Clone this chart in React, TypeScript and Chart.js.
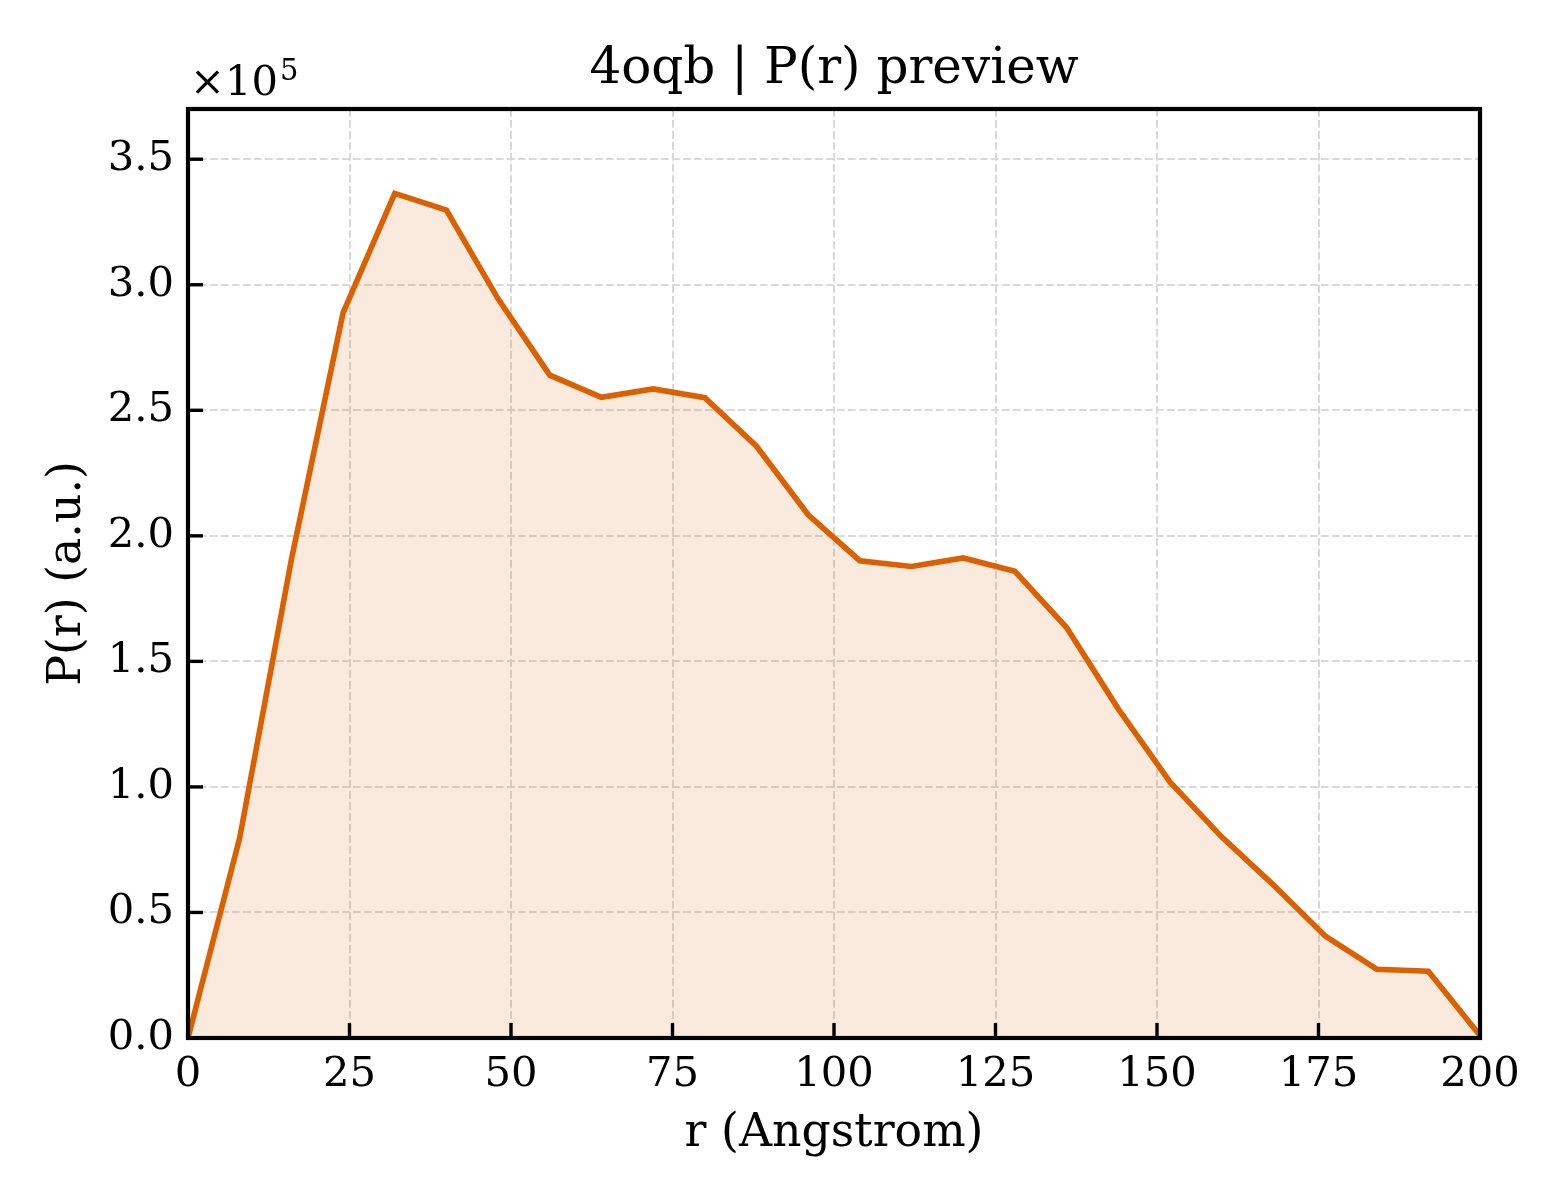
import React, { useEffect, useRef } from "react";
import { Chart, registerables } from "chart.js";

Chart.register(...registerables);

const TITLE = "4oqb | P(r) preview";
const X_LABEL = "r (Angstrom)";
const Y_LABEL = "P(r) (a.u.)";
const OFFSET_BASE = "×10";
const OFFSET_EXP = "5";

const rValues = [0, 8, 16, 24, 32, 40, 48, 56, 64, 72, 80, 88, 96, 104, 112, 120, 128, 136, 144, 152, 160, 168, 176, 184, 192, 200];
const prValues = [
  0, 79700, 190500, 288800, 336400, 329700, 294400, 264000, 255200, 258500,
  255000, 235700, 208400, 190100, 187800, 191200, 185900, 163500, 131100, 102000,
  80100, 61000, 40700, 27400, 26600, 1000,
];
const xTicks = [0, 25, 50, 75, 100, 125, 150, 175, 200];
const yTicks = [0, 0.5, 1.0, 1.5, 2.0, 2.5, 3.0, 3.5];
const Y_SCALE = 1e5;
const X_MIN = 0;
const X_MAX = 200;
const Y_MIN = 0;
const Y_MAX = 3.7;

const FONT = "'DejaVu Serif', serif";
const LINE_COLOR = "#DC5F00";
const FILL_COLOR = "rgba(220, 95, 0, 0.13)";

const decorPlugin = {
  id: "decor",
  afterDatasetsDraw(chart: any) {
    const { ctx, chartArea } = chart;
    const { left, right, top, bottom } = chartArea;
    ctx.save();
    // inward ticks
    ctx.strokeStyle = "#000";
    ctx.lineWidth = 3.4;
    const xs = chart.scales.x;
    const ys = chart.scales.y;
    xs.ticks.forEach((t: any) => {
      const px = xs.getPixelForValue(t.value);
      ctx.beginPath();
      ctx.moveTo(px, bottom);
      ctx.lineTo(px, bottom - 15);
      ctx.stroke();
    });
    ys.ticks.forEach((t: any) => {
      const py = ys.getPixelForValue(t.value);
      ctx.beginPath();
      ctx.moveTo(left, py);
      ctx.lineTo(left + 15, py);
      ctx.stroke();
    });
    // frame
    ctx.lineWidth = 4.2;
    ctx.strokeRect(left, top, right - left, bottom - top);

    // texts
    ctx.fillStyle = "#000";
    ctx.textBaseline = "alphabetic";
    ctx.textAlign = "center";
    ctx.font = `50px ${FONT}`;
    ctx.fillText(TITLE, (left + right) / 2, 83);

    ctx.font = `45.8px ${FONT}`;
    ctx.fillText(X_LABEL, (left + right) / 2, 1146);

    ctx.save();
    ctx.translate(80, (top + bottom) / 2);
    ctx.rotate(-Math.PI / 2);
    ctx.fillText(Y_LABEL, 0, 0);
    ctx.restore();

    ctx.textAlign = "left";
    ctx.font = `41.67px ${FONT}`;
    ctx.fillText(OFFSET_BASE, left + 2, 95);
    const w = ctx.measureText(OFFSET_BASE).width;
    ctx.font = `29px ${FONT}`;
    ctx.fillText(OFFSET_EXP, left + 4 + w, 80);
    ctx.restore();
  },
};

export default function App() {
  const ref = useRef<HTMLCanvasElement | null>(null);

  useEffect(() => {
    document.body.style.margin = "0";
    const canvas = ref.current;
    if (!canvas) return;
    const tickFont = { family: FONT, size: 41.67 };
    const gridColor = "#d9d9d9";
    const chart = new Chart(canvas, {
      type: "line",
      data: {
        labels: rValues,
        datasets: [
          {
            data: rValues.map((r, i) => ({ x: r, y: prValues[i] })),
            borderColor: LINE_COLOR,
            backgroundColor: FILL_COLOR,
            borderWidth: 5.6,
            fill: "origin",
            pointRadius: 0,
            tension: 0,
            borderJoinStyle: "miter",
          },
        ],
      },
      options: {
        responsive: false,
        animation: false,
        devicePixelRatio: 1,
        layout: { padding: { top: 109, right: 80, bottom: 0, left: 0 } },
        plugins: {
          legend: { display: false },
          tooltip: { enabled: false },
          title: { display: false },
        },
        scales: {
          x: {
            type: "linear",
            min: X_MIN,
            max: X_MAX,
            afterBuildTicks: (s: any) => {
              s.ticks = xTicks.map((v) => ({ value: v }));
            },
            afterFit: (s: any) => {
              s.height = 162;
            },
            ticks: {
              font: tickFont,
              color: "#000",
              padding: 12,
              maxRotation: 0,
              autoSkip: false,
              callback: (v: any) => String(v),
            },
            grid: { drawTicks: false, color: gridColor, lineWidth: 2 },
            border: { display: false, dash: [7.7, 3.3] },
          },
          y: {
            type: "linear",
            min: Y_MIN * Y_SCALE,
            max: Y_MAX * Y_SCALE,
            afterBuildTicks: (s: any) => {
              s.ticks = yTicks.map((v) => ({ value: v * Y_SCALE }));
            },
            afterFit: (s: any) => {
              s.width = 188;
            },
            ticks: {
              font: tickFont,
              color: "#000",
              padding: 14,
              autoSkip: false,
              callback: (v: any) => (Number(v) / Y_SCALE).toFixed(1),
            },
            grid: { drawTicks: false, color: gridColor, lineWidth: 2 },
            border: { display: false, dash: [7.7, 3.3] },
          },
        },
      },
      plugins: [decorPlugin],
    } as any);
    return () => chart.destroy();
  }, []);

  return (
    <div style={{ position: "absolute", left: 0, top: 0, width: 1560, height: 1200, background: "#fff" }}>
      <canvas ref={ref} width={1560} height={1200} style={{ width: 1560, height: 1200, display: "block" }} />
    </div>
  );
}
